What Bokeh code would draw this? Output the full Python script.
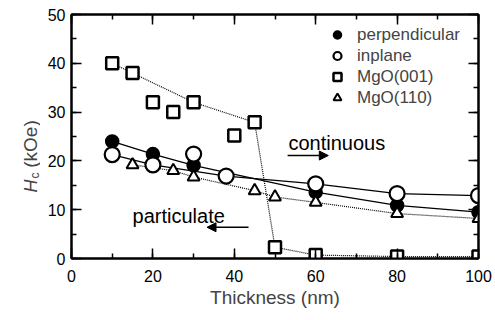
import math
from bokeh.plotting import figure
from bokeh.layouts import row
from bokeh.models import (Label, Arrow, NormalHead, LinearAxis, SingleIntervalTicker,
                          Legend, LegendItem, Range1d)
from bokeh.embed import file_html
from bokeh.resources import INLINE

# ---------------- data ----------------
perp_x = [10, 20, 30, 60, 80, 100]
perp_y = [24.0, 21.4, 19.1, 13.6, 10.9, 9.5]

inplane_x = [10, 20, 30, 38, 60, 80, 100]
inplane_y = [21.3, 19.2, 21.4, 16.9, 15.3, 13.3, 12.9]
inplane_line_idx = [0, 1, 3, 4, 5, 6]

mgo001_x = [10, 15, 20, 25, 30, 40, 45, 50, 60, 80, 100]
mgo001_y = [40.0, 38.0, 32.0, 30.0, 32.0, 25.2, 27.9, 2.3, 0.7, 0.4, 0.4]
mgo001_line_idx = [0, 1, 4, 6, 7, 8, 9, 10]

mgo110_x = [15, 25, 30, 45, 50, 60, 80, 100]
mgo110_y = [19.2, 18.0, 16.7, 13.9, 12.6, 11.5, 9.2, 8.2]

labels = ["perpendicular", "inplane", "MgO(001)", "MgO(110)"]
x_title = "Thickness (nm)"
x_ticks = [0, 20, 40, 60, 80, 100]
y_ticks = [0, 10, 20, 30, 40, 50]

FONT = "Liberation Sans"

LEFT_W = 40
p = figure(width=495 - LEFT_W, height=320, x_range=Range1d(0, 100), y_range=Range1d(0, 50),
           output_backend="svg", toolbar_location=None,
           min_border_left=71 - LEFT_W, min_border_right=17, min_border_top=14,
           min_border_bottom=62)
p.grid.visible = False
p.outline_line_color = "black"
p.outline_line_width = 2
p.background_fill_color = "white"
p.border_fill_color = "white"


def style_axis(ax, show_labels=True, ticks=None):
    ax.axis_line_width = 2
    ax.axis_line_color = "black"
    ax.major_tick_in = 10
    ax.major_tick_out = 0
    ax.minor_tick_in = 5
    ax.minor_tick_out = 0
    ax.major_tick_line_width = 1.5
    ax.minor_tick_line_width = 1.5
    ax.major_tick_line_color = "black"
    ax.minor_tick_line_color = "black"
    ax.major_label_text_font = FONT
    ax.major_label_text_font_size = "16px"
    ax.major_label_text_color = "black"
    if not show_labels:
        ax.major_label_overrides = {t: "" for t in ticks}
        ax.major_label_standoff = 0


p.xaxis.ticker = SingleIntervalTicker(interval=20, num_minor_ticks=2)
p.yaxis.ticker = SingleIntervalTicker(interval=10, num_minor_ticks=2)
style_axis(p.xaxis[0])
style_axis(p.yaxis[0])
p.xaxis.major_label_standoff = 11
p.yaxis.major_label_standoff = 6
p.xaxis.axis_label = x_title
p.xaxis.axis_label_text_font = FONT
p.xaxis.axis_label_text_font_size = "19px"
p.xaxis.axis_label_text_font_style = "normal"
p.xaxis.axis_label_standoff = 2

top_ax = LinearAxis(ticker=SingleIntervalTicker(interval=20, num_minor_ticks=2))
right_ax = LinearAxis(ticker=SingleIntervalTicker(interval=10, num_minor_ticks=2))
style_axis(top_ax, False, x_ticks)
style_axis(right_ax, False, y_ticks)
p.add_layout(top_ax, "above")
p.add_layout(right_ax, "right")

# ---------------- lines ----------------
p.line(perp_x, perp_y, line_color="black", line_width=1.3)
p.line([inplane_x[i] for i in inplane_line_idx], [inplane_y[i] for i in inplane_line_idx],
       line_color="black", line_width=1.3)
p.line([mgo001_x[i] for i in mgo001_line_idx], [mgo001_y[i] for i in mgo001_line_idx],
       line_color="black", line_width=1.2, line_dash="1 1")
p.line(mgo110_x, mgo110_y, line_color="black", line_width=1.2, line_dash="1 1")

# ---------------- markers ----------------
r_perp = p.scatter(perp_x, perp_y, marker="circle", size=13, fill_color="black",
                   line_color="black", line_width=1.5)
r_in = p.scatter(inplane_x, inplane_y, marker="circle", size=15, fill_color="white",
                 line_color="black", line_width=2.2)
r_110 = p.scatter(mgo110_x, mgo110_y, marker="triangle", size=12, fill_color="white",
                  line_color="black", line_width=2)
r_001 = p.scatter(mgo001_x, mgo001_y, marker="square", size=12, fill_color="white",
                  line_color="black", line_width=2.5)

legend = Legend(items=[LegendItem(label=labels[0], renderers=[r_perp]),
                       LegendItem(label=labels[1], renderers=[r_in]),
                       LegendItem(label=labels[2], renderers=[r_001]),
                       LegendItem(label=labels[3], renderers=[r_110])],
                location=(256, 150), orientation="vertical",
                border_line_color=None, background_fill_alpha=0,
                padding=0, margin=0, spacing=0,
                glyph_width=20, glyph_height=21, label_height=21, label_standoff=10,
                label_text_font=FONT, label_text_font_size="17px")
p.add_layout(legend)

# ---------------- annotations ----------------
cont_text = dict(x=53.3, y=23.6, text="continuous")
part_text = dict(x=15.0, y=8.8, text="particulate")
for t in (cont_text, part_text):
    p.add_layout(Label(x=t["x"], y=t["y"], text=t["text"], text_font=FONT,
                       text_font_size="20px", text_color="black",
                       text_baseline="alphabetic", text_align="left"))

cont_arrow = dict(x0=53.1, x1=63.1, y=21.1)
part_arrow = dict(x0=43.5, x1=33.3, y=6.4)
for a in (cont_arrow, part_arrow):
    p.add_layout(Arrow(end=NormalHead(size=9, fill_color="black", line_color="black"),
                       x_start=a["x0"], y_start=a["y"], x_end=a["x1"], y_end=a["y"],
                       line_color="black", line_width=1.5))

# ---------------- y-axis title panel: italic H, subscript c, then (kOe) ----------------
q = figure(width=LEFT_W, height=320, x_range=Range1d(0, LEFT_W), y_range=Range1d(0, 50),
           output_backend="svg", toolbar_location=None, x_axis_type=None, y_axis_type=None,
           min_border_left=0, min_border_right=0, min_border_top=14, min_border_bottom=62)
q.grid.visible = False
q.outline_line_color = None
q.background_fill_color = "white"
q.border_fill_color = "white"

ylab_x = 30
q.add_layout(Label(x=ylab_x, y=13.5, text="H", angle=math.pi / 2, text_font=FONT,
                   text_font_size="18px", text_font_style="italic",
                   text_baseline="alphabetic", text_align="left"))
q.add_layout(Label(x=ylab_x + 4, y=16.4, text="c", angle=math.pi / 2, text_font=FONT,
                   text_font_size="12px", text_baseline="alphabetic", text_align="left"))
q.add_layout(Label(x=ylab_x, y=18.6, text="(kOe)", angle=math.pi / 2, text_font=FONT,
                   text_font_size="19px", text_baseline="alphabetic", text_align="left"))

layout = row(q, p, spacing=0)
open("out.html", "w").write(file_html(layout, INLINE))
